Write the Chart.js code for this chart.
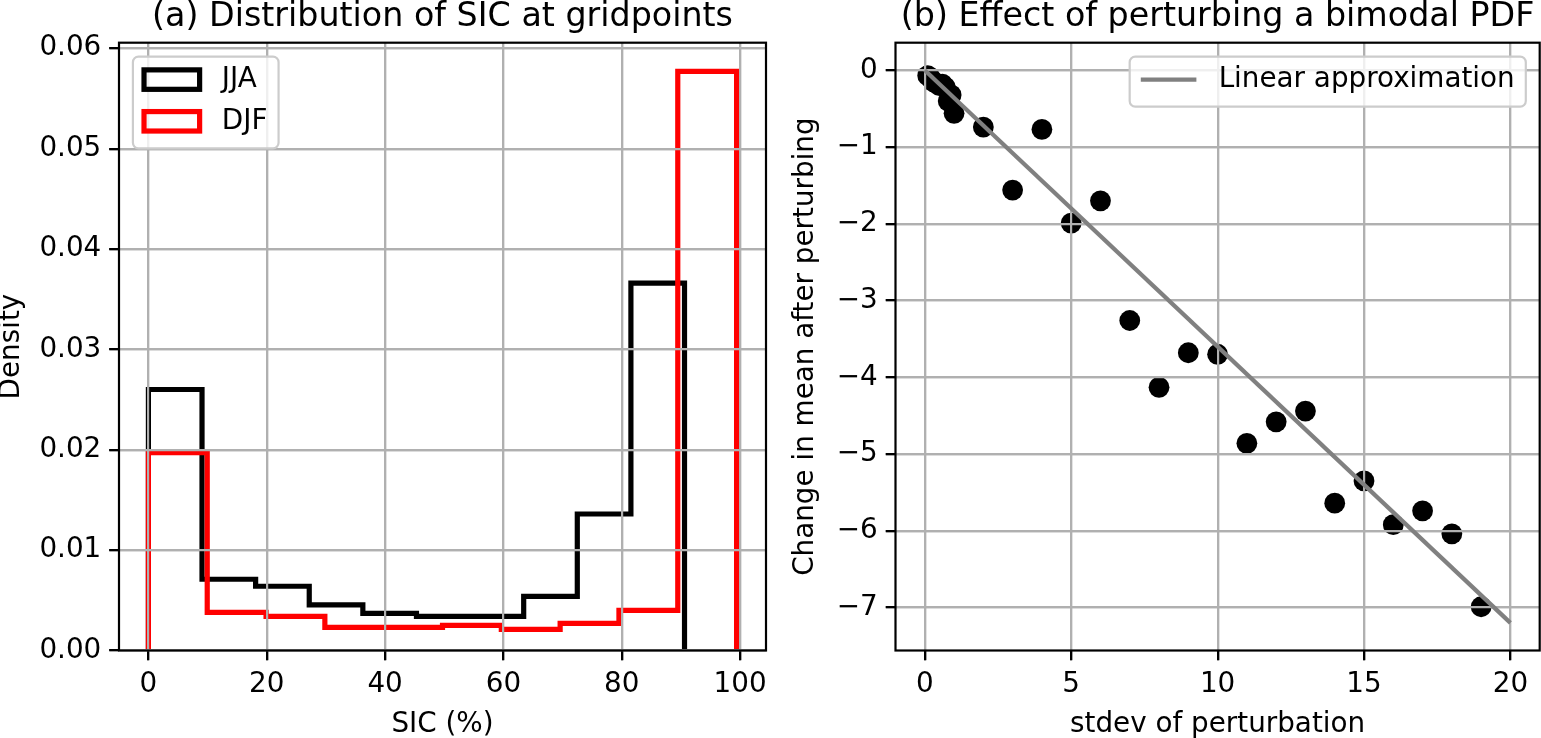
<!DOCTYPE html>
<html lang="en">
<head>
<meta charset="UTF-8">
<title>SIC distribution and bimodal PDF perturbation</title>
<script src="https://cdn.jsdelivr.net/npm/chart.js"></script>
<style>
  body {
    margin: 0;
    background: #ffffff;
    width: 1541px;
    height: 738px;
    overflow: hidden;
    position: relative;
  }
  .panel {
    position: absolute;
    top: 0;
    height: 738px;
  }
  #leftPanel { left: 0; width: 780px; }
  #rightPanel { left: 780px; width: 761px; }
</style>
</head>
<body>

<div class="panel" id="leftPanel"><canvas id="histChart"></canvas></div>
<div class="panel" id="rightPanel"><canvas id="pertChart"></canvas></div>

<script>
  // (a) histogram bin edges and densities
  const jjaEdges = [0, 9.06, 18.12, 27.18, 36.24, 45.3, 54.36, 63.42, 72.48, 81.54, 90.6];
  const jjaDensity = [0.0260, 0.0071, 0.0064, 0.00455, 0.0037, 0.0034, 0.0034, 0.0054, 0.0136, 0.0366];
  const djfEdges = [0, 9.94, 19.88, 29.82, 39.76, 49.7, 59.64, 69.58, 79.52, 89.46, 99.4];
  const djfDensity = [0.0197, 0.0038, 0.0034, 0.0023, 0.0023, 0.0025, 0.0021, 0.0027, 0.0040, 0.0577];

  const histXTicks = [0, 20, 40, 60, 80, 100];
  const histYTicks = [0, 0.01, 0.02, 0.03, 0.04, 0.05, 0.06];

  // (b) change in mean against stdev of the perturbation
  const pertStdev = [0.1, 0.2, 0.3, 0.4, 0.5, 0.6, 0.7, 0.8, 0.9, 1.0,
                     2, 3, 4, 5, 6, 7, 8, 9, 10, 11, 12, 13, 14, 15, 16, 17, 18, 19];
  const pertChange = [-0.07, -0.10, -0.15, -0.17, -0.20, -0.18, -0.22, -0.40, -0.32, -0.56,
                      -0.74, -1.56, -0.77, -1.99, -1.70, -3.26, -4.13, -3.68, -3.70, -4.86,
                      -4.58, -4.44, -5.64, -5.35, -5.92, -5.74, -6.04, -6.99];
  const linearX = [0, 20];
  const linearY = [0, -7.2];

  const pertXTicks = [0, 5, 10, 15, 20];
  const pertYTicks = [0, -1, -2, -3, -4, -5, -6, -7];

  const FONT = "'DejaVu Sans', 'Liberation Sans', sans-serif";
  const FS = 27.8;          // 10pt at 200 dpi
  const TITLE_FS = 33.3;    // 12pt
  const GRID = '#b0b0b0';

  Chart.defaults.font.family = FONT;
  Chart.defaults.font.size = FS;
  Chart.defaults.color = '#000000';
  Chart.defaults.animation = false;

  function stepPoints(edges, heights) {
    const pts = [{ x: edges[0], y: 0 }];
    heights.forEach((h, i) => {
      pts.push({ x: edges[i], y: h });
      pts.push({ x: edges[i + 1], y: h });
    });
    pts.push({ x: edges[edges.length - 1], y: 0 });
    return pts;
  }

  const minus = v => String(v).replace('-', '\u2212');

  function makeAxis(min, max, ticks, fmt, title, fit) {
    return {
      type: 'linear',
      min: min,
      max: max,
      afterBuildTicks: scale => { scale.ticks = ticks.map(v => ({ value: v })); },
      afterFit: fit,
      ticks: { callback: fmt, padding: 8, maxRotation: 0, autoSkip: false },
      grid: {
        color: GRID,
        lineWidth: 2.2,
        drawTicks: true,
        tickLength: 9.7,
        tickColor: '#000000',
        tickWidth: 2.2
      },
      border: { display: false },
      title: title
    };
  }

  // matplotlib look: grid over patches, spines, axes title, legend box
  const mplFrame = {
    id: 'mplFrame',
    afterDatasetDraw(chart, args, opts) {
      if (args.index !== opts.gridAfter) return;
      chart.scales.x.drawGrid(chart.chartArea);
      chart.scales.y.drawGrid(chart.chartArea);
    },
    afterDraw(chart, args, opts) {
      const ctx = chart.ctx;
      const a = chart.chartArea;
      ctx.save();

      ctx.strokeStyle = '#000000';
      ctx.lineWidth = 2.2;
      ctx.strokeRect(a.left, a.top, a.right - a.left, a.bottom - a.top);

      ctx.fillStyle = '#000000';
      ctx.font = TITLE_FS + 'px ' + FONT;
      ctx.textAlign = 'center';
      ctx.textBaseline = 'alphabetic';
      ctx.fillText(opts.title, (a.left + a.right) / 2, a.top - 16.7);

      // legend
      const em = FS;
      ctx.font = FS + 'px ' + FONT;
      const items = opts.legend.map(i => ({ ds: chart.data.datasets[i], kind: opts.legendKind }));
      const textW = Math.max(...items.map(it => ctx.measureText(it.ds.label).width));
      const w = 3.6 * em + textW;
      const h = 0.8 * em + items.length * em + (items.length - 1) * 0.5 * em;
      const top = a.top + 0.5 * em;
      const left = opts.legendAlign === 'right' ? a.right - 0.5 * em - w : a.left + 0.5 * em;

      ctx.beginPath();
      ctx.roundRect(left, top, w, h, 0.2 * em);
      ctx.fillStyle = 'rgba(255,255,255,0.8)';
      ctx.fill();
      ctx.strokeStyle = '#cccccc';
      ctx.lineWidth = 2.2;
      ctx.stroke();

      items.forEach((it, k) => {
        const cy = top + 23 + k * 41.7;
        const hx = left + 0.4 * em;
        ctx.strokeStyle = it.ds.borderColor;
        ctx.lineWidth = it.ds.borderWidth;
        if (it.kind === 'patch') {
          ctx.strokeRect(hx, cy - 0.35 * em, 2 * em, 0.7 * em);
        } else {
          ctx.beginPath();
          ctx.moveTo(hx, cy);
          ctx.lineTo(hx + 2 * em, cy);
          ctx.stroke();
        }
        ctx.fillStyle = '#000000';
        ctx.textAlign = 'left';
        ctx.textBaseline = 'middle';
        ctx.fillText(it.ds.label, hx + 2.8 * em, cy);
      });
      ctx.restore();
    }
  };

  new Chart(document.getElementById('histChart'), {
    type: 'scatter',
    data: {
      datasets: [{
        label: 'JJA',
        data: stepPoints(jjaEdges, jjaDensity),
        showLine: true,
        borderColor: '#000000',
        borderWidth: 5.2,
        pointRadius: 0,
        tension: 0,
        order: 2
      }, {
        label: 'DJF',
        data: stepPoints(djfEdges, djfDensity),
        showLine: true,
        borderColor: '#ff0000',
        borderWidth: 5.2,
        pointRadius: 0,
        tension: 0,
        order: 1
      }]
    },
    plugins: [mplFrame],
    options: {
      responsive: true,
      maintainAspectRatio: false,
      layout: { autoPadding: false, padding: { top: 42.7, right: 14, left: 0, bottom: 0 } },
      plugins: {
        legend: { display: false },
        tooltip: { enabled: false },
        mplFrame: {
          title: '(a) Distribution of SIC at gridpoints',
          gridAfter: 1,
          legend: [0, 1],
          legendKind: 'patch',
          legendAlign: 'left'
        }
      },
      scales: {
        x: makeAxis(-4.97, 104.37, histXTicks, v => String(v),
          { display: true, text: 'SIC (%)', padding: { top: 0, bottom: -3 } },
          s => { s.height = 87.5; }),
        y: makeAxis(0, 0.06055, histYTicks, v => v.toFixed(2),
          { display: true, text: 'Density', padding: { top: -4.7, bottom: 0 } },
          s => { s.width = 119; })
      }
    }
  });

  new Chart(document.getElementById('pertChart'), {
    type: 'scatter',
    data: {
      datasets: [{
        label: 'Perturbed',
        data: pertStdev.map((x, i) => ({ x: x, y: pertChange[i] })),
        backgroundColor: '#000000',
        borderWidth: 0,
        pointRadius: 10.4,
        order: 2
      }, {
        label: 'Linear approximation',
        data: linearX.map((x, i) => ({ x: x, y: linearY[i] })),
        showLine: true,
        borderColor: '#808080',
        borderWidth: 4.2,
        pointRadius: 0,
        order: 1
      }]
    },
    plugins: [mplFrame],
    options: {
      responsive: true,
      maintainAspectRatio: false,
      layout: { autoPadding: false, padding: { top: 42.7, right: 1.3, left: 0, bottom: 0 } },
      plugins: {
        legend: { display: false },
        tooltip: { enabled: false },
        mplFrame: {
          title: '(b) Effect of perturbing a bimodal PDF',
          gridAfter: 0,
          legend: [1],
          legendKind: 'line',
          legendAlign: 'right'
        }
      },
      scales: {
        x: makeAxis(-1, 21, pertXTicks, v => String(v),
          { display: true, text: 'stdev of perturbation', padding: { top: 0, bottom: -3 } },
          s => { s.height = 87.5; }),
        y: makeAxis(-7.56, 0.36, pertYTicks, minus,
          { display: true, text: 'Change in mean after perturbing', padding: { top: 8.7, bottom: 0 } },
          s => { s.width = 115.5; })
      }
    }
  });
</script>

</body>
</html>
